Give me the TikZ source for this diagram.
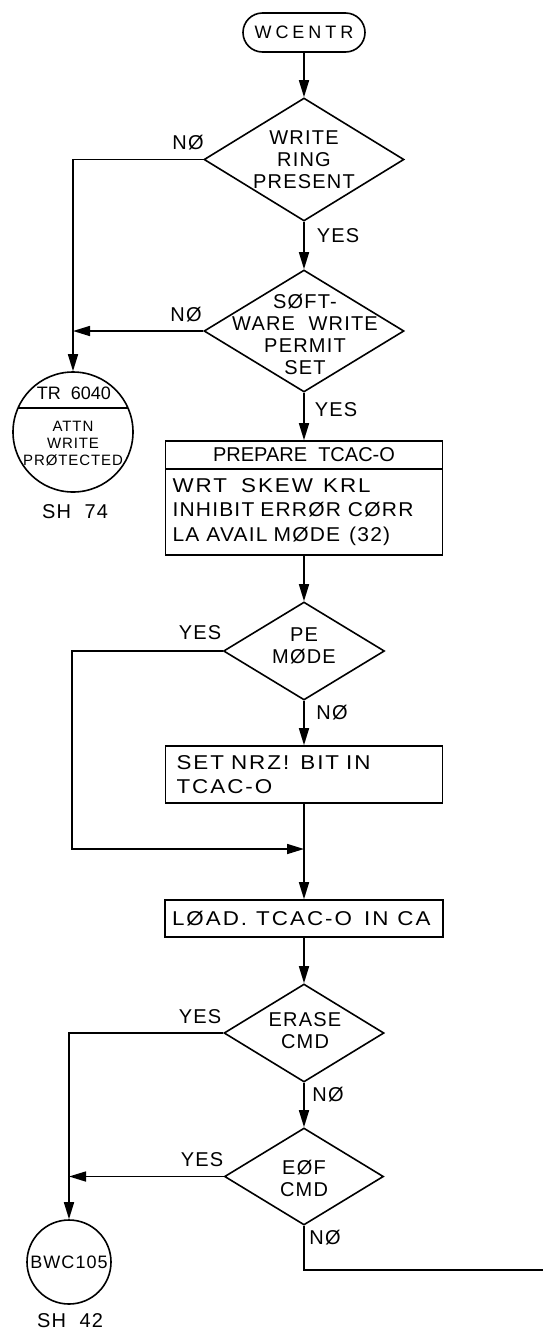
\documentclass[tikz,border=0pt]{standalone}
\usepackage{fontspec}
\setmainfont[LetterSpace=6,WordSpace=2]{Liberation Sans}
\newfontfamily\plainfont[WordSpace=2]{Liberation Sans}
\newfontfamily\spacedfont[LetterSpace=10,FakeStretch=1.12]{Liberation Sans}
\newfontfamily\midfont[LetterSpace=6,FakeStretch=1.05]{Liberation Sans}
\newfontfamily\widefont[LetterSpace=22]{Liberation Sans}
\newcommand\gap[1]{\hspace{#1pt}}
\usetikzlibrary{shapes.geometric,shapes.misc,arrows.meta,calc}
\begin{document}
\begin{tikzpicture}[x=1pt,y=-1pt,
  every node/.style={font=\fontsize{20}{22}\selectfont},
  ln/.style={line width=1.6pt},
  arr/.style={ln,-{Triangle[length=17pt,width=10pt]}},
  dia/.style={ln,draw,diamond,inner sep=0pt},
  box/.style={ln,draw,rectangle,inner sep=0pt},
  term/.style={ln,draw,rounded rectangle,inner sep=0pt},
  conn/.style={ln,draw,circle,inner sep=0pt},
  lbl/.style={inner sep=0pt},
  dtext/.style={align=center,inner sep=0pt},
]
\useasboundingbox (0,0) rectangle (543,1331);

% terminal
\node[term,minimum width=122pt,minimum height=39pt,font=\widefont\fontsize{18}{20}\selectfont] (t0) at (304,32.5) {WCENTR};

% decisions
\node[dia,minimum width=200pt,minimum height=123pt] (d1) at (304,159.5) {};
\node[dtext] (d1t) at (304,160) {WRITE\\RING\\PRESENT};

\node[dia,minimum width=200pt,minimum height=122pt] (d2) at (304,331) {};
\node[dtext] (d2t) at (305,334) {SØFT-\\WARE WRITE\\PERMIT\\SET};

% prepare box
\node[box,minimum width=277pt,minimum height=28pt,font=\plainfont\fontsize{20}{22}\selectfont] (b1t) at (304,455) {PREPARE TCAC-O};
\node[box,minimum width=277pt,minimum height=86pt,text width=263pt,inner xsep=7pt,align=left,font=\midfont\fontsize{20}{24.5}\selectfont] (b1) at (304,512) {{\spacedfont WRT\gap{14}SKEW\gap{10}KRL}\\INHIBIT\gap{6}ERRØR\gap{7}CØRR\\LA\gap{7}AVAIL\gap{6}MØDE\gap{9}(32)};

\node[dia,minimum width=161pt,minimum height=98pt] (d3) at (304,651) {};
\node[dtext] (d3t) at (304,646) {PE\\MØDE};

\node[box,minimum width=277pt,minimum height=57pt,text width=255pt,inner xsep=11pt,align=left,font=\spacedfont\fontsize{20}{24}\selectfont] (b2) at (304,774.5) {SET\gap{7}NRZ!\gap{11}BIT\gap{7}IN\\TCAC-O};

\coordinate (j1) at (304,849);

\node[box,minimum width=278pt,minimum height=37pt,text width=264pt,inner xsep=7pt,align=left,font=\spacedfont\fontsize{20}{22}\selectfont] (b3) at (304,918.5) {LØAD.\gap{9}TCAC-O\gap{12}IN\gap{9}CA};

\node[dia,minimum width=160pt,minimum height=98pt] (d4) at (304,1033) {};
\node[dtext] (d4t) at (305,1031) {ERASE\\CMD};

\node[dia,minimum width=159pt,minimum height=97pt] (d5) at (304,1176.5) {};
\node[dtext] (d5t) at (304,1178) {EØF\\CMD};

% connectors (off-page)
\node[conn,minimum size=120pt] (c1) at (73,432) {};
\draw[ln] ($(c1.center)+(-55,-24)$) -- ($(c1.center)+(55,-24)$);
\node[lbl,font=\plainfont\fontsize{18}{20}\selectfont] (c1t) at (74,393) {TR 6040};
\node[dtext,font=\fontsize{15}{17}\selectfont] (c1b) at (73,444) {ATTN\\WRITE\\PRØTECTED};
\node[lbl] (sh74) at (75,512) {SH 74};

\node[conn,minimum size=84pt,font=\fontsize{18}{20}\selectfont] (c2) at (69,1262) {BWC105};
\node[lbl] (sh42) at (70,1321) {SH 42};

\coordinate (exit) at (543,1270);

% main flow
\draw[arr] (t0.south) -- (d1.north);
\draw[arr] (d1.south) -- (d2.north);
\draw[arr] (d2.south) -- (b1t.north);
\draw[arr] (b1.south) -- (d3.north);
\draw[arr] (d3.south) -- (b2.north);
\draw[ln] (b2.south) -- (j1);
\draw[arr] (j1) -- (b3.north);
\draw[arr] (b3.south) -- (d4.north);
\draw[arr] (d4.south) -- (d5.north);

% branches
\draw[arr] (d1.west) -| (c1.north);
\draw[arr] (d2.west) -- (c1.north |- d2.west);
\draw[arr] (d3.west) -- ++(-151,0) |- (j1);
\draw[arr] (d4.west) -| (c2.north);
\draw[arr] (d5.west) -- (c2.north |- d5.west);
\draw[ln] (d5.south) |- (exit);

% labels
\node[lbl] (l1) at (188,143) {NØ};
\node[lbl] (l2) at (338,236) {YES};
\node[lbl] (l3) at (186,315) {NØ};
\node[lbl] (l4) at (336,410) {YES};
\node[lbl] (l5) at (200,633) {YES};
\node[lbl] (l6) at (332,713) {NØ};
\node[lbl] (l7) at (200,1017) {YES};
\node[lbl] (l8) at (328,1095) {NØ};
\node[lbl] (l9) at (202,1160) {YES};
\node[lbl] (l10) at (325,1238) {NØ};
\end{tikzpicture}
\end{document}
